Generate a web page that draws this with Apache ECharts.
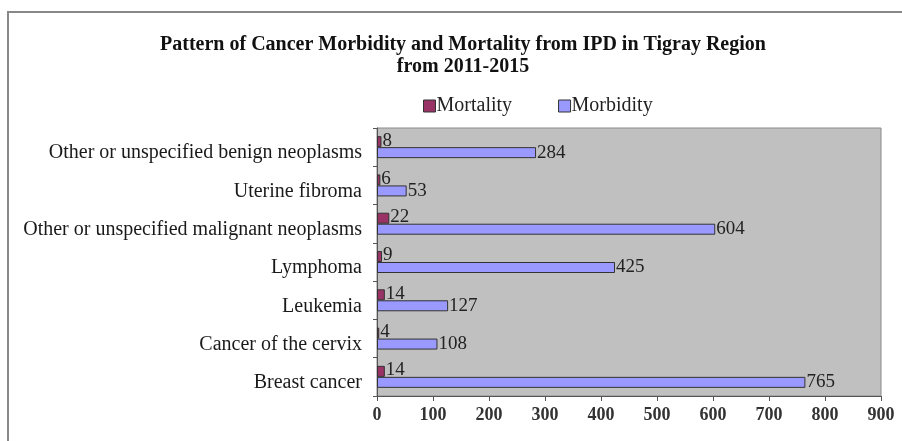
<!DOCTYPE html>
<html><head><meta charset="utf-8">
<script src="https://cdn.jsdelivr.net/npm/echarts@6/dist/echarts.min.js"></script>
<style>html,body{margin:0;padding:0;background:#fff}#c{width:902px;height:441px}</style>
</head><body><div id="c"></div>
<script>
const categories = ["Breast cancer","Cancer of the cervix","Leukemia","Lymphoma","Other or unspecified malignant neoplasms","Uterine fibroma","Other or unspecified benign neoplasms"];
const mortality = [14, 4, 14, 9, 22, 6, 8];
const morbidity = [765, 108, 127, 425, 604, 53, 284];
const xTicks = [0, 100, 200, 300, 400, 500, 600, 700, 800, 900];

const serif = "Liberation Serif";
const chart = echarts.init(document.getElementById('c'));
chart.setOption({
  animation: false,
  backgroundColor: '#fff',
  graphic: [{type:'rect', shape:{x:8, y:12, width:1000, height:1000}, style:{fill:'none', stroke:'#888', lineWidth:2}, silent:true}],
  title: {
    text: 'Pattern of Cancer Morbidity and Mortality from IPD in Tigray Region\nfrom 2011-2015',
    left: 458, top: 29, textAlign: 'center',
    textStyle: {fontFamily: serif, fontWeight: 'bold', fontSize: 20, color: '#111', lineHeight: 22}
  },
  legend: {
    data: ['Mortality','Morbidity'],
    left: 418, top: 91, itemWidth: 12, itemHeight: 12, itemGap: 46,
    icon: 'rect',
    itemStyle: {borderColor: '#333', borderWidth: 1},
    textStyle: {fontFamily: serif, fontSize: 20, color: '#222', padding: [0,0,0,-4]}
  },
  grid: {left: 377, right: 21, top: 128, bottom: 45, show: true, backgroundColor: '#c0c0c0', borderColor: '#8a8a8a', borderWidth: 1},
  xAxis: {
    type: 'value', min: 0, max: 900, interval: 100,
    axisLine: {show: true, lineStyle: {color: '#555'}},
    axisTick: {show: true, length: 5, lineStyle: {color: '#555'}},
    splitLine: {show: false},
    axisLabel: {fontFamily: serif, fontWeight: 'bold', fontSize: 18, color: '#333', margin: 10,
      formatter: v => xTicks.includes(v) ? String(v) : ''}
  },
  yAxis: {
    type: 'category', data: categories,
    axisLine: {show: true, lineStyle: {color: '#555'}},
    axisTick: {show: true, length: 4, lineStyle: {color: '#555'}},
    axisLabel: {fontFamily: serif, fontSize: 20, color: '#1a1a1a', margin: 15, verticalAlign: 'top', lineHeight: 12}
  },
  series: [
    {name: 'Mortality', type: 'bar', data: mortality, barWidth: 11, barGap: '0%',
     itemStyle: {color: '#993366', borderColor: '#333', borderWidth: 1},
     label: {show: true, position: 'right', distance: 1, offset: [0, -1], fontFamily: serif, fontSize: 19, color: '#222'}},
    {name: 'Morbidity', type: 'bar', data: morbidity, barWidth: 11, barGap: '0%',
     itemStyle: {color: '#9999ff', borderColor: '#333', borderWidth: 1},
     label: {show: true, position: 'right', distance: 1, offset: [0, 0], fontFamily: serif, fontSize: 19, color: '#222'}}
  ]
});
</script></body></html>
